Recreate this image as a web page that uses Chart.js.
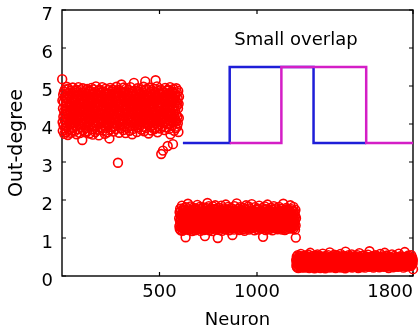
<!DOCTYPE html>
<html>
<head>
<meta charset="utf-8">
<script src="https://cdn.jsdelivr.net/npm/chart.js@4.4.1/dist/chart.umd.min.js"></script>
<style>
  html, body { margin: 0; padding: 0; background: #fff; }
  canvas { display: block; }
</style>
</head>
<body>
<canvas id="c" width="420" height="332"></canvas>
<script>
// First neuron index of each population
const groupStart = [1, 601, 1201];

// Out-degree of neurons 1-600
const outDegreeA = [
  5.18,4.62,4.05,3.82,4.41,4.77,4.19,3.96,4.58,4.85,4.33,3.74,4.12,4.69,4.91,4.27,3.88,4.46,4.03,4.72,
  4.36,3.79,4.55,4.98,4.14,3.92,4.67,4.29,4.81,3.71,4.44,4.08,4.93,4.22,3.85,4.59,4.37,4.01,4.75,3.99,
  4.48,4.16,4.88,3.77,4.31,4.64,4.09,4.52,3.93,4.79,4.25,4.70,3.83,4.42,4.96,4.18,4.57,3.89,4.34,4.83,
  4.11,4.66,3.80,4.49,4.24,4.87,4.02,4.39,4.61,3.95,4.73,4.28,4.06,4.90,3.73,4.53,4.20,4.84,4.13,4.45,
  3.86,4.68,4.32,4.97,4.07,4.56,3.98,4.40,4.78,4.17,4.63,3.76,4.35,4.89,4.10,4.51,4.26,3.91,4.74,4.43,
  4.00,4.82,4.21,3.58,4.65,4.38,4.94,4.15,3.84,4.54,4.30,4.76,4.04,4.47,3.97,4.86,4.23,4.60,3.78,4.39,
  4.71,4.12,4.50,3.90,4.80,4.27,4.63,4.06,4.92,3.81,4.45,4.19,4.70,4.34,3.94,4.58,4.02,4.85,4.29,4.53,
  3.75,4.44,4.88,4.16,4.61,3.99,4.36,4.77,4.09,4.49,4.95,4.23,3.87,4.67,4.31,4.14,4.82,3.72,4.41,4.57,
  4.20,4.91,4.05,4.62,3.93,4.37,4.73,4.26,4.84,4.10,3.79,4.55,4.32,4.99,4.18,4.66,3.96,4.43,4.08,4.79,
  4.48,3.85,4.69,4.22,4.87,4.03,4.59,4.35,3.70,4.74,4.15,4.52,4.90,4.28,3.91,4.64,4.11,4.46,4.83,4.01,
  4.39,4.76,3.88,4.25,4.61,4.97,4.13,4.50,3.83,4.70,4.31,4.06,4.85,4.42,3.95,4.58,4.19,4.78,4.34,3.74,
  4.65,4.09,4.47,4.93,4.21,3.90,4.56,4.81,4.00,4.38,4.72,4.16,3.78,4.53,4.27,4.89,4.04,4.63,3.97,4.44,
  4.80,4.23,3.62,4.68,4.12,4.51,4.95,4.30,3.86,4.59,4.07,4.75,4.40,4.17,4.86,3.92,4.36,4.64,4.02,4.49,
  4.91,4.14,4.57,3.80,4.33,4.79,4.24,4.66,4.03,4.45,3.94,4.84,4.20,4.55,4.10,4.73,3.87,4.41,4.98,4.28,
  4.60,3.96,4.37,4.82,4.18,4.52,2.98,4.69,4.05,4.44,4.90,4.26,3.77,4.62,4.35,4.11,4.76,4.00,4.54,4.87,
  4.22,4.67,3.89,4.43,5.04,4.15,4.58,3.99,4.74,4.32,4.08,4.81,4.46,3.84,4.63,4.20,4.96,4.13,4.50,3.93,
  4.70,4.29,4.85,4.06,4.42,3.76,4.60,4.18,4.93,4.37,4.01,4.77,4.24,4.55,3.90,4.68,4.11,4.47,4.83,4.27,
  3.98,4.56,4.16,4.89,4.34,4.72,3.82,4.48,4.09,4.65,4.97,4.21,4.53,3.95,4.38,4.80,4.04,4.61,4.30,3.73,
  4.52,4.86,4.14,4.40,3.87,4.75,4.25,4.59,5.08,4.02,4.45,4.71,3.97,4.33,4.88,4.19,4.57,4.07,4.66,4.36,
  4.81,4.10,4.49,3.79,4.62,4.28,4.94,4.16,4.54,4.00,4.43,4.78,4.23,3.91,4.69,4.12,4.85,4.31,4.58,3.96,
  4.47,4.74,4.05,4.39,4.90,4.20,3.85,4.63,4.30,4.08,4.83,4.44,4.15,4.56,3.93,4.71,4.26,4.98,4.11,4.52,
  3.81,4.67,4.34,4.87,4.03,4.46,5.12,4.22,4.60,3.89,4.77,4.17,4.41,4.92,4.28,3.99,4.55,4.09,4.73,4.35,
  4.64,4.01,4.48,3.75,4.82,4.24,4.58,4.13,4.96,4.37,3.92,4.69,4.06,4.51,4.85,4.19,4.43,3.83,4.65,4.29,
  4.89,4.16,4.53,4.04,4.40,4.79,3.97,4.61,4.25,4.93,4.10,4.47,3.86,4.70,4.32,4.57,4.02,4.84,4.21,5.15,
  4.38,3.90,4.75,4.14,4.62,4.27,4.99,4.07,4.50,3.78,4.68,4.31,4.87,4.18,4.45,3.95,4.80,4.23,4.59,4.05,
  4.73,4.33,3.88,4.56,4.12,4.91,4.26,4.64,3.21,4.42,4.78,4.09,4.54,3.94,4.86,4.20,4.49,3.30,4.67,4.15,
  4.29,4.83,4.03,4.60,4.36,3.84,4.71,4.17,4.95,4.44,4.08,4.58,3.91,4.76,4.24,4.52,4.88,3.99,4.40,4.13,
  4.65,3.42,4.47,4.90,4.21,4.57,4.00,4.81,4.30,3.87,4.69,4.11,4.43,4.97,4.18,3.73,4.62,4.34,4.84,4.06,
  4.50,4.23,4.77,3.96,4.39,4.85,4.14,4.59,3.47,4.70,4.28,4.92,4.04,4.45,3.82,4.66,4.19,4.55,4.80,4.10,
  4.35,4.74,3.89,4.61,4.25,4.94,4.07,4.48,4.83,3.93,4.57,4.20,4.68,4.02,4.41,4.87,3.79,4.53,4.16,4.72
];

// Out-degree of neurons 601-1200
const outDegreeB = [
  1.52,1.31,1.68,1.24,1.45,1.77,1.36,1.59,1.20,1.49,1.72,1.28,1.63,1.41,1.85,1.33,1.56,1.19,1.47,1.70,
  1.38,1.61,1.26,1.54,1.79,1.43,1.22,1.66,1.35,1.50,1.74,1.29,1.58,1.02,1.46,1.81,1.32,1.64,1.40,1.55,
  1.25,1.71,1.44,1.37,1.60,1.90,1.30,1.53,1.67,1.21,1.48,1.76,1.34,1.57,1.42,1.65,1.27,1.51,1.83,1.39,
  1.62,1.23,1.47,1.73,1.33,1.58,1.18,1.44,1.69,1.36,1.54,1.80,1.28,1.49,1.64,1.40,1.75,1.31,1.56,1.45,
  1.20,1.67,1.38,1.52,1.78,1.26,1.61,1.43,1.35,1.70,1.48,1.22,1.59,1.87,1.32,1.55,1.41,1.66,1.29,1.50,
  1.74,1.34,1.57,1.25,1.63,1.46,1.82,1.37,1.53,1.19,1.68,1.42,1.30,1.60,1.77,1.45,1.24,1.51,1.65,1.39,
  1.56,1.81,1.28,1.48,1.72,1.35,1.62,1.21,1.44,1.69,1.33,1.58,1.05,1.50,1.76,1.40,1.64,1.27,1.53,1.79,
  1.43,1.23,1.66,1.37,1.55,1.92,1.31,1.47,1.71,1.26,1.60,1.42,1.84,1.34,1.57,1.20,1.49,1.73,1.38,1.63,
  1.29,1.54,1.78,1.41,1.67,1.24,1.51,1.36,1.70,1.46,1.18,1.61,1.39,1.83,1.32,1.56,1.45,1.68,1.25,1.52,
  1.75,1.40,1.59,1.30,1.48,1.86,1.35,1.64,1.22,1.53,1.77,1.44,1.28,1.62,1.50,1.71,1.33,1.57,1.00,1.46,
  1.65,1.27,1.54,1.80,1.38,1.60,1.43,1.21,1.69,1.34,1.52,1.74,1.30,1.47,1.63,1.39,1.85,1.26,1.58,1.42,
  1.19,1.66,1.48,1.35,1.72,1.55,1.29,1.61,1.44,1.78,1.37,1.50,1.24,1.67,1.41,1.57,1.32,1.70,1.46,1.88,
  1.53,1.36,1.62,1.23,1.49,1.75,1.40,1.58,1.31,1.64,1.45,1.82,1.27,1.55,1.39,1.68,1.20,1.51,1.73,1.34,
  1.60,1.44,1.28,1.71,1.52,1.38,1.79,1.25,1.56,1.47,1.65,1.33,1.59,1.08,1.42,1.76,1.30,1.63,1.48,1.36,
  1.70,1.22,1.57,1.43,1.84,1.35,1.51,1.66,1.29,1.54,1.40,1.73,1.26,1.61,1.45,1.91,1.37,1.55,1.32,1.68,
  1.41,1.59,1.24,1.77,1.46,1.33,1.64,1.50,1.21,1.69,1.38,1.56,1.81,1.30,1.53,1.43,1.67,1.27,1.60,1.49,
  1.35,1.72,1.45,1.28,1.62,1.54,1.39,1.80,1.23,1.58,1.47,1.34,1.70,1.42,1.65,1.19,1.51,1.76,1.37,1.55,
  1.63,1.31,1.50,1.86,1.40,1.57,1.26,1.68,1.44,1.32,1.74,1.52,1.29,1.61,1.46,1.83,1.36,1.59,1.22,1.48,
  1.54,1.78,1.34,1.47,1.66,1.25,1.60,1.41,1.71,1.30,1.56,1.43,1.89,1.37,1.52,1.64,1.28,1.49,1.73,1.40,
  1.27,1.62,1.45,1.35,1.69,1.53,1.20,1.58,1.81,1.38,1.47,1.67,1.31,1.55,1.42,1.75,1.24,1.60,1.50,1.36,
  1.66,1.43,1.29,1.77,1.51,1.39,1.63,1.22,1.57,1.46,1.85,1.33,1.59,1.44,1.70,1.26,1.54,1.37,1.65,1.48,
  1.30,1.57,1.72,1.41,1.25,1.62,1.50,1.79,1.35,1.68,1.03,1.53,1.45,1.61,1.28,1.74,1.40,1.56,1.32,1.83,
  1.49,1.36,1.64,1.21,1.55,1.42,1.76,1.31,1.60,1.47,1.69,1.27,1.52,1.88,1.38,1.58,1.44,1.23,1.67,1.53,
  1.73,1.40,1.56,1.34,1.63,1.48,1.24,1.71,1.43,1.59,1.29,1.80,1.37,1.54,1.66,1.32,1.50,1.75,1.20,1.45,
  1.58,1.26,1.67,1.52,1.38,1.84,1.44,1.61,1.33,1.55,1.70,1.41,1.27,1.64,1.49,1.36,1.78,1.46,1.62,1.30,
  1.42,1.69,1.35,1.57,1.23,1.50,1.74,1.39,1.65,1.45,1.31,1.59,1.82,1.28,1.53,1.68,1.40,1.56,1.25,1.72,
  1.51,1.33,1.60,1.47,1.77,1.37,1.55,1.22,1.63,1.43,1.70,1.29,1.58,1.46,1.90,1.35,1.61,1.41,1.67,1.26,
  1.64,1.48,1.21,1.56,1.39,1.73,1.45,1.62,1.32,1.79,1.50,1.36,1.66,1.24,1.54,1.42,1.71,1.30,1.57,1.44,
  1.37,1.75,1.53,1.28,1.61,1.47,1.34,1.69,1.52,1.40,1.86,1.25,1.59,1.43,1.65,1.31,1.55,1.76,1.38,1.49,
  1.60,1.29,1.46,1.71,1.36,1.57,1.82,1.41,1.26,1.63,1.50,1.35,1.68,1.44,1.22,1.58,1.74,1.33,1.01,1.52
];

// Out-degree of neurons 1201-1800
const outDegreeC = [
  0.42,0.27,0.35,0.51,0.23,0.38,0.46,0.30,0.55,0.33,0.41,0.21,0.37,0.48,0.29,0.44,0.32,0.53,0.25,0.39,
  0.34,0.47,0.26,0.40,0.58,0.31,0.43,0.22,0.36,0.50,0.28,0.45,0.33,0.24,0.41,0.52,0.30,0.38,0.47,0.27,
  0.36,0.22,0.44,0.31,0.49,0.39,0.26,0.54,0.34,0.42,0.29,0.37,0.46,0.23,0.40,0.32,0.51,0.28,0.43,0.35,
  0.25,0.41,0.33,0.56,0.30,0.45,0.38,0.21,0.48,0.36,0.27,0.43,0.61,0.31,0.39,0.24,0.46,0.34,0.52,0.29,
  0.40,0.32,0.47,0.26,0.37,0.53,0.30,0.44,0.23,0.35,0.49,0.28,0.42,0.38,0.20,0.45,0.33,0.50,0.27,0.41,
  0.31,0.54,0.36,0.24,0.43,0.39,0.48,0.29,0.35,0.57,0.25,0.40,0.32,0.46,0.37,0.22,0.44,0.30,0.51,0.34,
  0.47,0.28,0.38,0.45,0.21,0.36,0.52,0.33,0.41,0.26,0.49,0.31,0.39,0.24,0.44,0.35,0.59,0.29,0.42,0.37,
  0.23,0.40,0.34,0.50,0.30,0.46,0.27,0.38,0.43,0.20,0.35,0.53,0.32,0.45,0.28,0.41,0.37,0.25,0.48,0.33,
  0.39,0.44,0.26,0.36,0.55,0.31,0.42,0.29,0.47,0.34,0.22,0.40,0.62,0.37,0.27,0.45,0.32,0.50,0.24,0.43,
  0.35,0.28,0.48,0.41,0.30,0.38,0.23,0.52,0.36,0.44,0.33,0.27,0.46,0.39,0.31,0.56,0.25,0.42,0.37,0.29,
  0.45,0.33,0.21,0.40,0.49,0.35,0.43,0.26,0.38,0.31,0.54,0.28,0.41,0.36,0.47,0.23,0.39,0.34,0.44,0.30,
  0.27,0.50,0.37,0.32,0.45,0.24,0.42,0.58,0.29,0.36,0.40,0.46,0.22,0.34,0.51,0.30,0.38,0.43,0.26,0.48,
  0.41,0.35,0.29,0.53,0.38,0.44,0.31,0.25,0.47,0.33,0.39,0.20,0.42,0.64,0.36,0.28,0.45,0.32,0.50,0.37,
  0.30,0.46,0.40,0.23,0.35,0.49,0.27,0.43,0.37,0.55,0.32,0.41,0.26,0.38,0.44,0.29,0.52,0.34,0.24,0.40,
  0.48,0.26,0.36,0.42,0.31,0.57,0.39,0.22,0.45,0.34,0.28,0.47,0.37,0.43,0.30,0.51,0.25,0.38,0.44,0.33,
  0.36,0.43,0.52,0.28,0.40,0.33,0.46,0.38,0.24,0.49,0.35,0.41,0.30,0.55,0.27,0.44,0.39,0.32,0.21,0.47,
  0.29,0.38,0.45,0.35,0.60,0.31,0.42,0.27,0.50,0.37,0.44,0.23,0.40,0.34,0.48,0.29,0.36,0.53,0.41,0.26,
  0.43,0.32,0.24,0.47,0.39,0.28,0.54,0.36,0.41,0.30,0.45,0.38,0.33,0.22,0.46,0.40,0.31,0.49,0.35,0.42,
  0.37,0.51,0.30,0.41,0.26,0.44,0.34,0.39,0.56,0.29,0.36,0.48,0.25,0.43,0.38,0.32,0.65,0.40,0.28,0.46,
  0.24,0.42,0.38,0.33,0.49,0.36,0.27,0.45,0.31,0.40,0.52,0.35,0.43,0.29,0.37,0.47,0.22,0.41,0.34,0.50,
  0.39,0.30,0.46,0.25,0.41,0.55,0.33,0.37,0.44,0.28,0.48,0.36,0.31,0.53,0.40,0.26,0.43,0.35,0.47,0.32,
  0.45,0.36,0.28,0.50,0.34,0.42,0.23,0.39,0.47,0.31,0.37,0.58,0.29,0.44,0.35,0.41,0.27,0.49,0.38,0.30,
  0.33,0.48,0.40,0.26,0.43,0.37,0.52,0.30,0.36,0.45,0.24,0.39,0.46,0.34,0.61,0.28,0.42,0.37,0.31,0.44,
  0.40,0.27,0.35,0.47,0.32,0.54,0.38,0.42,0.25,0.49,0.36,0.30,0.44,0.39,0.21,0.46,0.33,0.41,0.51,0.29,
  0.36,0.44,0.50,0.31,0.38,0.26,0.43,0.35,0.48,0.32,0.40,0.57,0.28,0.37,0.45,0.34,0.42,0.23,0.39,0.47,
  0.30,0.41,0.34,0.53,0.27,0.45,0.39,0.31,0.46,0.36,0.25,0.43,0.38,0.50,0.33,0.40,0.29,0.48,0.35,0.42,
  0.47,0.33,0.38,0.24,0.44,0.36,0.59,0.29,0.41,0.35,0.49,0.31,0.45,0.27,0.39,0.52,0.34,0.37,0.43,0.26,
  0.38,0.46,0.30,0.42,0.35,0.28,0.51,0.39,0.33,0.44,0.22,0.40,0.37,0.48,0.31,0.45,0.36,0.63,0.29,0.41,
  0.32,0.39,0.47,0.36,0.25,0.43,0.34,0.50,0.40,0.30,0.46,0.38,0.27,0.42,0.35,0.54,0.31,0.44,0.37,0.28,
  0.43,0.35,0.29,0.49,0.38,0.41,0.32,0.46,0.26,0.40,0.55,0.34,0.37,0.44,0.30,0.48,0.39,0.33,0.42,0.18
];

// Two overlapping input windows (neuron index, level)
const windowBlueX    = [620, 860, 860, 1290, 1290, 1560];
const windowBlueY    = [3.5, 3.5, 5.5, 5.5, 3.5, 3.5];
const windowMagentaX = [860, 1125, 1125, 1560, 1560, 1800];
const windowMagentaY = [3.5, 3.5, 5.5, 5.5, 3.5, 3.5];

// Axis ticks
const xTickValues = [500, 1000, 1800];
const xTickLabels = ['500', '1000', '1800'];
const yTickValues = [0, 1, 2, 3, 4, 5, 6, 7];

// Annotation
const noteText = 'Small overlap';
const noteX = 1200;
const noteY = 6.2;

const FONT = "'DejaVu Sans', sans-serif";

function toPoints(start, values) {
  return values.map((v, i) => ({ x: start + i, y: v }));
}
function zipPoints(xs, ys) {
  return xs.map((x, i) => ({ x: x, y: ys[i] }));
}

const scatterPoints = []
  .concat(toPoints(groupStart[0], outDegreeA))
  .concat(toPoints(groupStart[1], outDegreeB))
  .concat(toPoints(groupStart[2], outDegreeC));

// Box around the plot with inward tick marks, plus the text note
const framePlugin = {
  id: 'frame',
  beforeDatasetsDraw(chart) {
    const { ctx, chartArea: a, scales: { x, y } } = chart;
    const L = 4;
    ctx.save();
    ctx.strokeStyle = '#000';
    ctx.lineWidth = 1.4;
    ctx.strokeRect(a.left, a.top, a.right - a.left, a.bottom - a.top);
    ctx.lineWidth = 1.2;
    ctx.beginPath();
    xTickValues.forEach(v => {
      const px = x.getPixelForValue(v);
      ctx.moveTo(px, a.bottom); ctx.lineTo(px, a.bottom - L);
      ctx.moveTo(px, a.top); ctx.lineTo(px, a.top + L);
    });
    yTickValues.forEach(v => {
      const py = y.getPixelForValue(v);
      ctx.moveTo(a.left, py); ctx.lineTo(a.left + L, py);
      ctx.moveTo(a.right, py); ctx.lineTo(a.right - L, py);
    });
    ctx.stroke();
    ctx.restore();
  },
  afterDatasetsDraw(chart) {
    const { ctx, scales: { x, y } } = chart;
    ctx.save();
    ctx.fillStyle = '#000';
    ctx.font = '18px ' + FONT;
    ctx.textAlign = 'center';
    ctx.textBaseline = 'middle';
    ctx.fillText(noteText, x.getPixelForValue(noteX), y.getPixelForValue(noteY));
    ctx.restore();
  }
};

Chart.defaults.font.family = FONT;
Chart.defaults.color = '#000';

new Chart(document.getElementById('c'), {
  type: 'scatter',
  data: {
    datasets: [
      {
        type: 'line',
        data: zipPoints(windowMagentaX, windowMagentaY),
        borderColor: '#d41ec6',
        borderWidth: 2.5,
        pointRadius: 0,
        fill: false,
        tension: 0,
        order: 1
      },
      {
        type: 'line',
        data: zipPoints(windowBlueX, windowBlueY),
        borderColor: '#1e1ed8',
        borderWidth: 2.5,
        pointRadius: 0,
        fill: false,
        tension: 0,
        order: 2
      },
      {
        data: scatterPoints,
        pointStyle: 'circle',
        pointRadius: 4.4,
        borderWidth: 1.6,
        borderColor: '#ff0000',
        backgroundColor: 'rgba(0,0,0,0)',
        clip: false,
        order: 3
      }
    ]
  },
  options: {
    responsive: false,
    animation: false,
    events: [],
    layout: { padding: { left: 0, right: 7, top: 10, bottom: 0 } },
    plugins: { legend: { display: false }, tooltip: { enabled: false } },
    scales: {
      x: {
        type: 'linear',
        min: 0,
        max: 1800,
        grid: { display: false, drawTicks: false },
        border: { display: false },
        afterBuildTicks(scale) {
          scale.ticks = [0].concat(xTickValues).map(v => ({ value: v }));
        },
        afterFit(scale) {
          scale.height = 56;
          scale.paddingLeft = 0;
          scale.paddingRight = 0;
        },
        ticks: {
          autoSkip: false,
          maxRotation: 0,
          align: 'inner',
          padding: 6,
          font: { size: 18, family: FONT },
          color: '#000',
          callback(value) {
            const i = xTickValues.indexOf(value);
            return i < 0 ? '' : xTickLabels[i];
          }
        },
        title: {
          display: true,
          text: 'Neuron',
          color: '#000',
          font: { size: 18, family: FONT },
          padding: { top: 0, bottom: 1 }
        }
      },
      y: {
        type: 'linear',
        min: 0,
        max: 7,
        grid: { display: false, drawTicks: false },
        border: { display: false },
        afterBuildTicks(scale) {
          scale.ticks = yTickValues.map(v => ({ value: v }));
        },
        afterFit(scale) {
          scale.width = 62;
          scale.paddingTop = 0;
          scale.paddingBottom = 0;
        },
        ticks: {
          padding: 9,
          labelOffset: 5.5,
          font: { size: 18, family: FONT, lineHeight: 1 },
          color: '#000',
          callback(value) { return String(value); }
        },
        title: {
          display: true,
          text: 'Out-degree',
          color: '#000',
          font: { size: 19, family: FONT },
          padding: { top: 6, bottom: 0 }
        }
      }
    }
  },
  plugins: [framePlugin]
});
</script>
</body>
</html>
